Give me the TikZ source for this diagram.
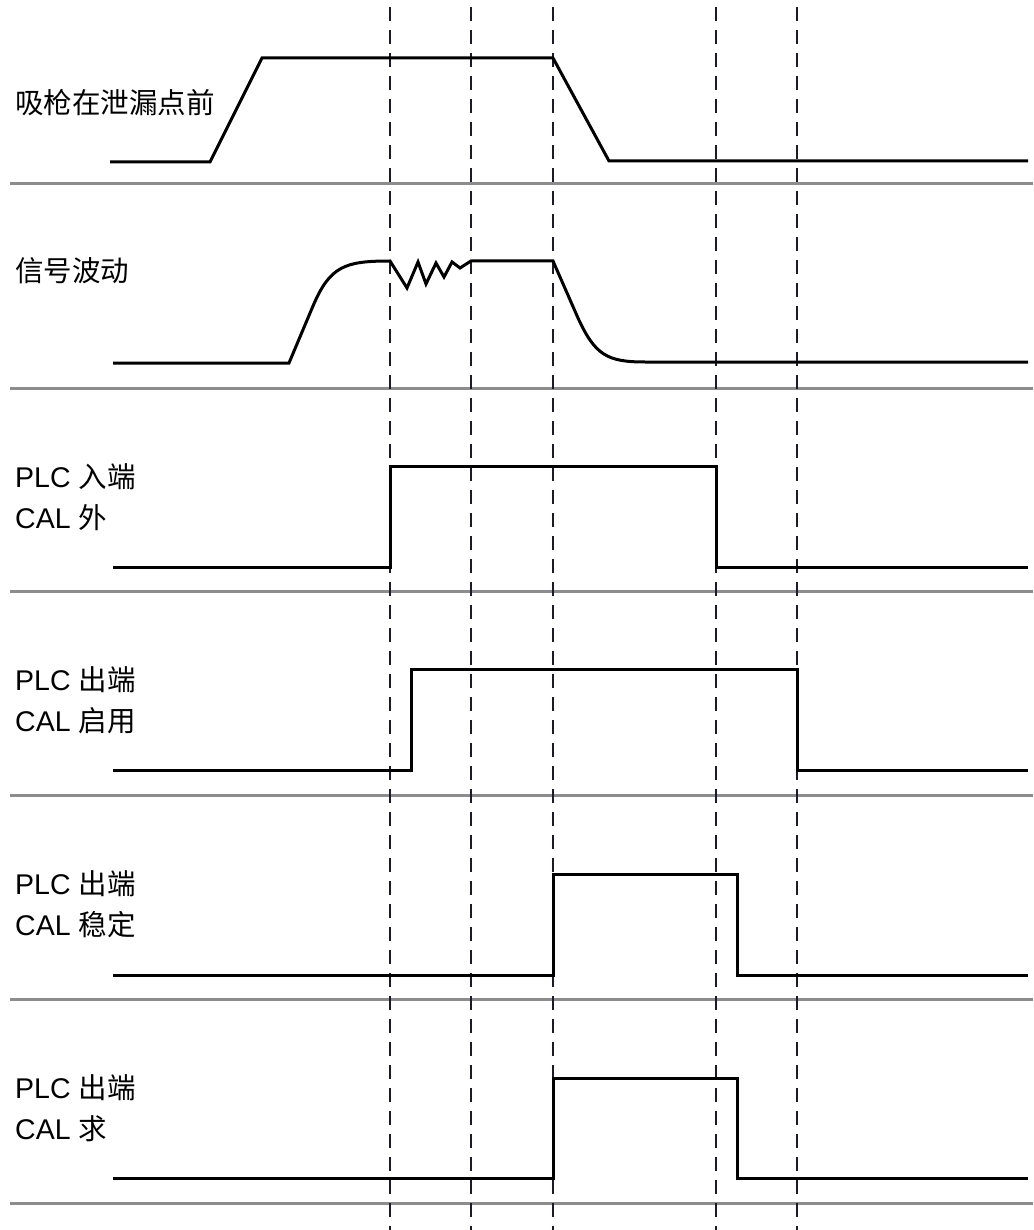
\documentclass[tikz,border=0pt]{standalone}
\usepackage{fontspec}
\setmainfont{Liberation Sans}
\newfontfamily\cjk{Noto Sans CJK SC}
\definecolor{sepgray}{HTML}{8C8C8C}
\definecolor{guidecol}{HTML}{1A1A2A}
\begin{document}
\begin{tikzpicture}[x=1pt,y=-1pt,
  sig/.style={line width=3pt, black, line join=miter},
  sepline/.style={line width=3pt, color=sepgray},
  guide/.style={line width=2.4pt, color=guidecol, dash pattern=on 14pt off 9pt},
  lbl/.style={anchor=west, inner sep=0pt, align=left, font=\fontsize{28.5}{41}\selectfont}]
\useasboundingbox (0,0) rectangle (1033,1230);
\fill[white] (0,0) rectangle (1033,1230);

% separators
\foreach \y in {184,388,591,795,999,1203}
  \draw[sepline] (10,\y) -- (1033,\y);

% vertical guide lines
\foreach \x in {390,471,553,716,797}
  \draw[guide] (\x,7) -- (\x,1230);

% labels
\node[lbl] (l1) at (15,103) {{\cjk 吸枪在泄漏点前}};
\node[lbl] (l2) at (15,271) {{\cjk 信号波动}};
\node[lbl] (l3) at (15,497) {PLC {\cjk 入端}\\CAL {\cjk 外}};
\node[lbl] (l4) at (15,700) {PLC {\cjk 出端}\\CAL {\cjk 启用}};
\node[lbl] (l5) at (15,904) {PLC {\cjk 出端}\\CAL {\cjk 稳定}};
\node[lbl] (l6) at (15,1108) {PLC {\cjk 出端}\\CAL {\cjk 求}};

% row 1
\draw[sig] (110,162) -- (210,162) -- (262,58) -- (553,58) -- (609,161) -- (1028,161);

% row 2
\draw[sig] (113,363) -- (289,363) -- (313,306) .. controls (330,266) and (345,261) .. (390,261)
  -- (407,288) -- (418,262) -- (426,284) -- (436,263) -- (444,277) -- (452,262) -- (460,268) -- (471,261)
  -- (553,261) -- (578,318) .. controls (595,355) and (607,362) .. (645,362) -- (1028,362);

% row 3
\draw[sig] (113,567) -- (390,567) -- (390,466) -- (716,466) -- (716,567) -- (1028,567);
% row 4
\draw[sig] (113,770) -- (411,770) -- (411,669) -- (797,669) -- (797,770) -- (1028,770);
% row 5
\draw[sig] (113,975) -- (553,975) -- (553,874) -- (737,874) -- (737,975) -- (1028,975);
% row 6
\draw[sig] (113,1178) -- (553,1178) -- (553,1078) -- (737,1078) -- (737,1178) -- (1028,1178);
\end{tikzpicture}
\end{document}
